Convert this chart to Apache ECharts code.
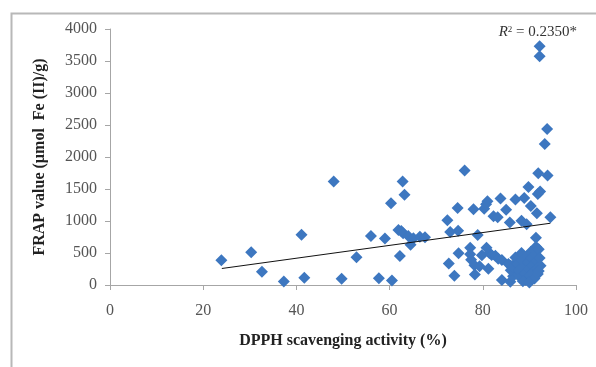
<!DOCTYPE html>
<html>
<head>
<meta charset="utf-8">
<script src="https://cdn.jsdelivr.net/npm/echarts@6/dist/echarts.min.js"></script>
<style>html,body{margin:0;padding:0;background:#fff}#c{width:596px;height:367px}</style>
</head>
<body>
<div id="c"></div>
<script>
const xTicks = [0, 20, 40, 60, 80, 100];
const yTicks = [0, 500, 1000, 1500, 2000, 2500, 3000, 3500, 4000];
const dpph = [
  23.9, 30.3, 32.6, 37.3, 41.1, 41.7, 48.0, 49.7, 52.9, 56.0, 57.7, 59.0, 60.3, 60.5,
  62.2, 62.8, 63.2, 61.9, 62.5, 62.9, 64.0, 64.5, 65.1, 66.5, 67.6,
  72.4, 73.0, 72.7, 73.9, 74.6, 74.7, 74.8,
  76.1, 77.3, 77.3, 77.5, 78.0, 78.2, 78.3, 78.9, 79.3, 79.8,
  80.3, 80.7, 81.0, 80.8, 81.4, 81.9, 81.2, 82.3, 83.2, 82.7, 83.3,
  83.8, 84.1, 84.1, 85.0, 85.8, 86.0, 85.9, 86.5, 87.0, 87.3, 87.3,
  88.3, 88.9, 89.4, 89.8, 90.3, 91.6, 91.8, 92.3, 91.9, 93.9, 93.3, 93.8, 92.2, 92.2, 94.5, 91.4, 91.4,
  85.5, 86.0, 86.5,
  87.0, 87.5, 87.8, 88.0, 88.3, 88.5, 88.7, 89.0, 89.2, 89.5, 89.7, 89.9, 90.1, 90.3,
  90.5, 90.7, 90.9, 91.1, 91.3, 91.5, 91.6, 91.8, 92.0, 92.2, 92.4, 92.0, 88.6, 90.0
];
const frap = [
  385, 510, 208, 55, 786, 115, 1617, 99, 432, 766, 107, 725, 1276, 72,
  453, 1617, 1411, 859, 845, 808, 766, 628, 729, 755, 745,
  1013, 830, 336, 145, 1203, 848, 497,
  1790, 583, 480, 396, 1185, 307, 165, 783, 292, 465,
  1190, 1260, 1310, 583, 500, 469, 255, 1075, 1060, 458, 410,
  1352, 391, 78, 1175, 975, 300, 52, 135, 1337, 183, 364,
  1005, 1360, 948, 1530, 1235, 1120, 1420, 1460, 1745, 1710, 2205, 2437, 3729, 3573, 1060, 739, 599,
  330, 230, 280,
  430, 330, 230, 120, 500, 380, 280, 180, 80, 450, 350, 250, 150, 520,
  420, 300, 200, 100, 480, 380, 260, 170, 560, 420, 300, 220, 60, 40
];
const trendX = [24, 94.5];
const trendY = [258, 965];

const pts = dpph.map((x, i) => [x, frap[i]]);
const trend = trendX.map((x, i) => [x, trendY[i]]);

const chart = echarts.init(document.getElementById('c'));
const serif = '"Liberation Serif", "DejaVu Serif", serif';
chart.setOption({
  animation: false,
  backgroundColor: '#fff',
  textStyle: { fontFamily: serif },
  graphic: [{
    type: 'rect', left: 9, top: 11, shape: { width: 600, height: 400 },
    style: { fill: 'none', stroke: '#b8b8b8', lineWidth: 2 }, silent: true
  }],
  title: {
    text: '{i|R}{s|2} = 0.2350*',
    right: 14, top: 20,
    textStyle: {
      fontFamily: serif, fontSize: 15, fontWeight: 'normal', color: '#333',
      rich: {
        i: { fontFamily: serif, fontSize: 15, fontStyle: 'italic', color: '#333' },
        s: { fontFamily: serif, fontSize: 9, color: '#333', verticalAlign: 'top', padding: [0, 0, 6, 0] }
      }
    }
  },
  grid: { left: 110, right: 20, top: 29, bottom: 82 },
  xAxis: {
    type: 'value', min: xTicks[0], max: xTicks[xTicks.length - 1], interval: 20,
    name: 'DPPH scavenging activity (%)', nameLocation: 'middle', nameGap: 48,
    nameTextStyle: { fontFamily: serif, fontSize: 16, fontWeight: 'bold', color: '#222' },
    axisLine: { show: true, lineStyle: { color: '#a6a6a6', width: 1 } },
    axisTick: { show: true, length: 5, lineStyle: { color: '#a6a6a6' } },
    axisLabel: { fontFamily: serif, fontSize: 16, color: '#555', margin: 18, formatter: v => String(v) },
    splitLine: { show: false }
  },
  yAxis: {
    type: 'value', min: yTicks[0], max: yTicks[yTicks.length - 1], interval: 500,
    name: 'FRAP value (µmol  Fe (II)/g)', nameLocation: 'middle', nameGap: 62, nameRotate: 90,
    nameTextStyle: { fontFamily: serif, fontSize: 16, fontWeight: 'bold', color: '#222' },
    axisLine: { show: true, lineStyle: { color: '#a6a6a6', width: 1 } },
    axisTick: { show: true, length: 5, lineStyle: { color: '#a6a6a6' } },
    axisLabel: { fontFamily: serif, fontSize: 16, color: '#555', margin: 13, formatter: v => String(v) },
    splitLine: { show: false }
  },
  series: [
    {
      type: 'scatter', data: pts, symbol: 'diamond', symbolSize: 12,
      itemStyle: { color: '#3d77c0', opacity: 1 }, z: 2
    },
    {
      type: 'line', data: trend, symbol: 'none', silent: true,
      lineStyle: { color: '#111', width: 1 }, z: 3
    }
  ]
});
</script>
</body>
</html>
